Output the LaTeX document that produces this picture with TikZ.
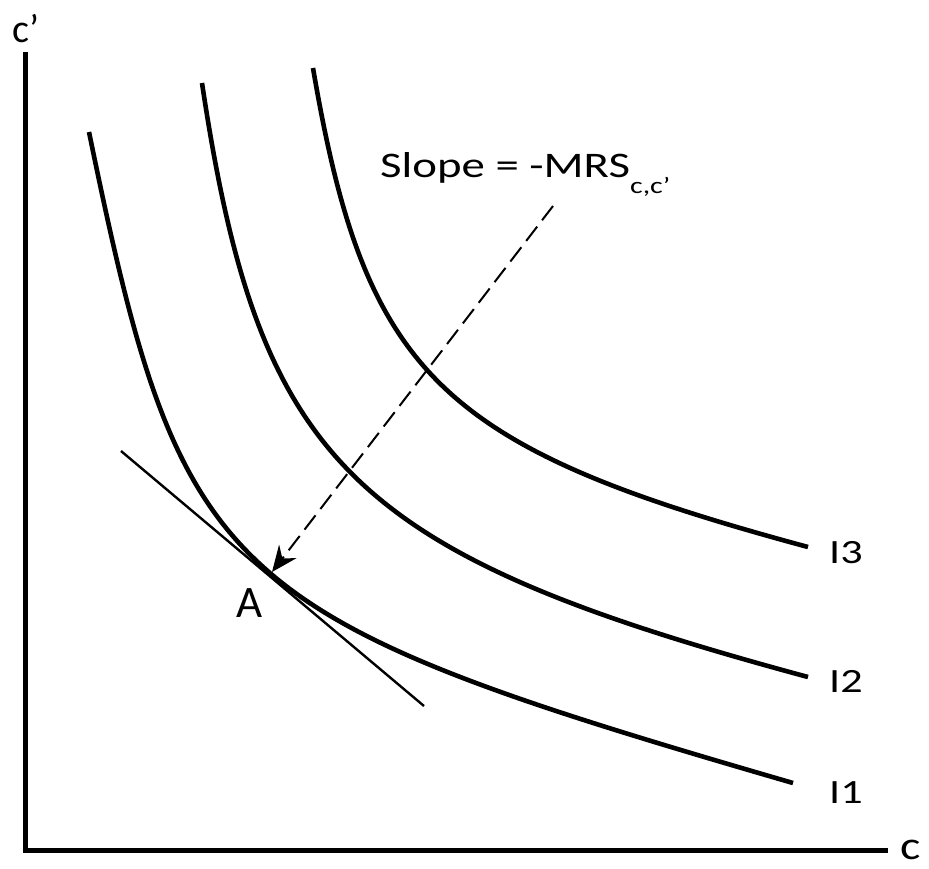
\documentclass[tikz,border=0pt]{standalone}
\usepackage{fontspec}
\setmainfont{Carlito}
\usetikzlibrary{arrows.meta}
\begin{document}
\begin{tikzpicture}[x=1pt,y=-1pt,
  curve/.style={line width=4.6pt, line cap=butt},
  axis/.style={line width=5pt, line join=miter},
  lbl/.style={inner sep=0pt, anchor=base west, font=\fontsize{34}{40}\selectfont},
  big/.style={inner sep=0pt, anchor=base west, font=\fontsize{40}{46}\selectfont},
  tangentline/.style={line width=2.4pt},
  slopearrow/.style={line width=2pt, dash pattern=on 18pt off 8pt,
    -{Stealth[length=26pt,width=22pt,inset=9pt]}}]
\useasboundingbox (0,0) rectangle (929,868);

% axes
\coordinate (ytop) at (25,52);
\coordinate (origin) at (25,850.5);
\coordinate (xend) at (888,850.5);
\draw[axis] (ytop) -- (origin) -- (xend);
\node[big] (ylabel) at (12,42) {c’};
\node[big] (xlabel) at (900,859) {\scalebox{1.2}[1]{c}};

% indifference curves
\draw[curve] (89,132) .. controls (181.9,583.3) and (217.1,615.8) .. (793,783);
\draw[curve] (202,83) .. controls (259.2,464.3) and (350.1,553.4) .. (808,677);
\draw[curve] (313,68) .. controls (365.5,375.7) and (439.8,447.6) .. (808,547);

\node[lbl] (i3) at (829,563) {\scalebox{1.3}[1]{I3}};
\node[lbl] (i2) at (829,692) {\scalebox{1.3}[1]{I2}};
\node[lbl] (i1) at (829,803) {\scalebox{1.3}[1]{I1}};

% tangent at A
\coordinate (tA) at (121,451);
\coordinate (tB) at (424,706);
\draw[tangentline] (tA) -- (tB);
\coordinate (Apt) at (272,572);
\node[inner sep=0pt, anchor=base west, font=\fontsize{45}{50}\selectfont] (alabel) at (236,617) {A};

% slope label and arrow
\node[inner sep=0pt, anchor=base west, font=\fontsize{36}{42}\selectfont] (slope) at (380,177)
  {\scalebox{1.3}[1]{Slope = -MRS\raisebox{-16pt}{\fontsize{23}{23}\selectfont c,c’}}};
\coordinate (sstart) at (553,206);
\draw[slopearrow] (sstart) -- (Apt);
\end{tikzpicture}
\end{document}
